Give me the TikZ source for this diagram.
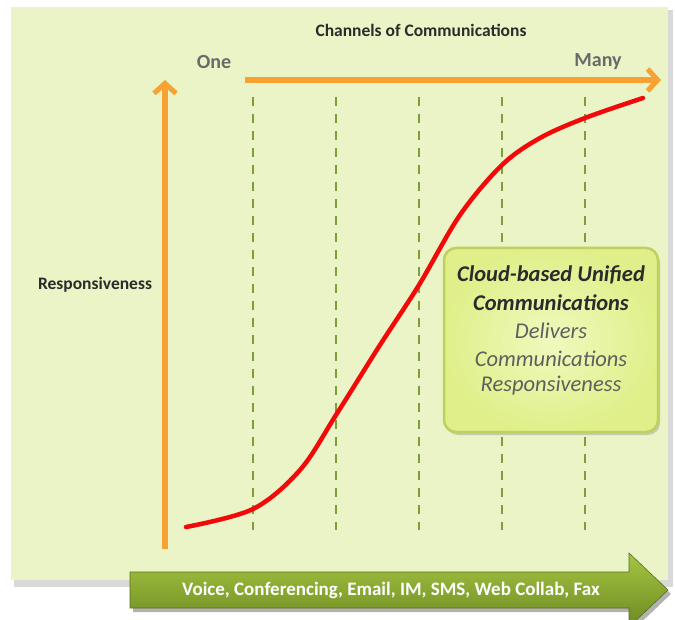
\documentclass[tikz,border=0pt]{standalone}
\usepackage{fontspec}
\setmainfont{Carlito}
\usetikzlibrary{arrows.meta,shadows,shapes.arrows}
\definecolor{panelbg}{HTML}{EAF4C6}
\definecolor{orangeax}{HTML}{F7A233}
\definecolor{dashgreen}{HTML}{7E9E3C}
\definecolor{curvered}{HTML}{F20A0A}
\definecolor{boxfill}{HTML}{E6F592}
\definecolor{boxedge}{HTML}{BED060}
\definecolor{arrowtop}{HTML}{A6C542}
\definecolor{arrowbot}{HTML}{6C8A22}
\definecolor{darktext}{HTML}{2B2B2B}
\definecolor{graytext}{HTML}{6A6A6A}
\tikzset{
  axisarrow/.style={draw=orangeax, line width=5.5pt, -{Straight Barb[length=10pt,width=22pt,line width=5pt]}},
  gridline/.style={draw=dashgreen, line width=1.5pt, dash pattern=on 9pt off 8pt},
  lbl/.style={font=\fontsize{17.5}{20}\selectfont\bfseries, text=darktext},
  endlbl/.style={font=\fontsize{20}{22}\selectfont\bfseries, text=graytext},
  boxtext/.style={font=\fontsize{22.5}{27}\selectfont\itshape, text=graytext!90!black, align=center},
  boxhead/.style={font=\fontsize{22.5}{27}\selectfont\bfseries\itshape, text=darktext, align=center},
}
\begin{document}
\begin{tikzpicture}[x=1pt,y=-1pt]
\useasboundingbox (0,0) rectangle (675,620);
\fill[white] (0,0) rectangle (675,620);
% panel with shadow
\fill[black!35] (15,11) rectangle (672,585);
\fill[black!15] (14,10) rectangle (673,587);
\fill[panelbg] (11,7) rectangle (668,580);
% title and labels
\node[lbl] (title) at (421,30) {Channels of Communications};
\node[endlbl] (one) at (214,62) {One};
\node[endlbl] (many) at (598,62) {Many};
\node[lbl] (resp) at (95,285) {Responsiveness};
% axes
\coordinate (hstart) at (245,80);
\coordinate (hend) at (661,80);
\coordinate (vstart) at (165,549);
\coordinate (vend) at (165,80);
\draw[axisarrow] (hstart) -- (hend);
\draw[axisarrow] (vstart) -- (vend);
% dashed grid lines
\foreach \i/\x in {1/253,2/336,3/419,4/502,5/585}{
  \coordinate (gt\i) at (\x,97);
  \coordinate (gb\i) at (\x,530);
  \draw[gridline] (gt\i) -- (gb\i);
}
% red curve
\draw[curvered, line width=4.5pt, line cap=round] plot[smooth, tension=0.55] coordinates
  {(186,527) (253,509) (300,470) (336,415) (380,345) (419,285) (460,215) (502,165) (540,138) (585,118) (643,98)};
% callout box
\node[draw=boxedge, line width=2.5pt, rounded corners=12pt, inner color=boxfill!60!white, outer color=boxfill!85!boxedge,
  drop shadow={shadow xshift=2pt, shadow yshift=-3pt, opacity=0.35},
  minimum width=214pt, minimum height=184pt] (cbox) at (551,340) {};
\node[boxhead] (c1) at (551,275) {Cloud-based Unified};
\node[boxhead] (c2) at (551,303) {Communications};
\node[boxtext] (c3) at (551,331) {Delivers};
\node[boxtext] (c4) at (551,359) {Communications};
\node[boxtext] (c5) at (551,386) {Responsiveness};
% green arrow
\fill[black!30] (133,576) -- (632,576) -- (632,557) -- (671,594) -- (632,631) -- (632,612) -- (133,612) -- cycle;
\shade[top color=arrowtop, bottom color=arrowbot, draw=arrowbot!80!black, line width=0.6pt]
  (130,572) -- (629,572) -- (629,553) -- (668,590) -- (629,627) -- (629,608) -- (130,608) -- cycle;
\node[font=\fontsize{19}{21}\selectfont\bfseries, text=white] (chan) at (391,590) {Voice, Conferencing, Email, IM, SMS, Web Collab, Fax};
\end{tikzpicture}
\end{document}
